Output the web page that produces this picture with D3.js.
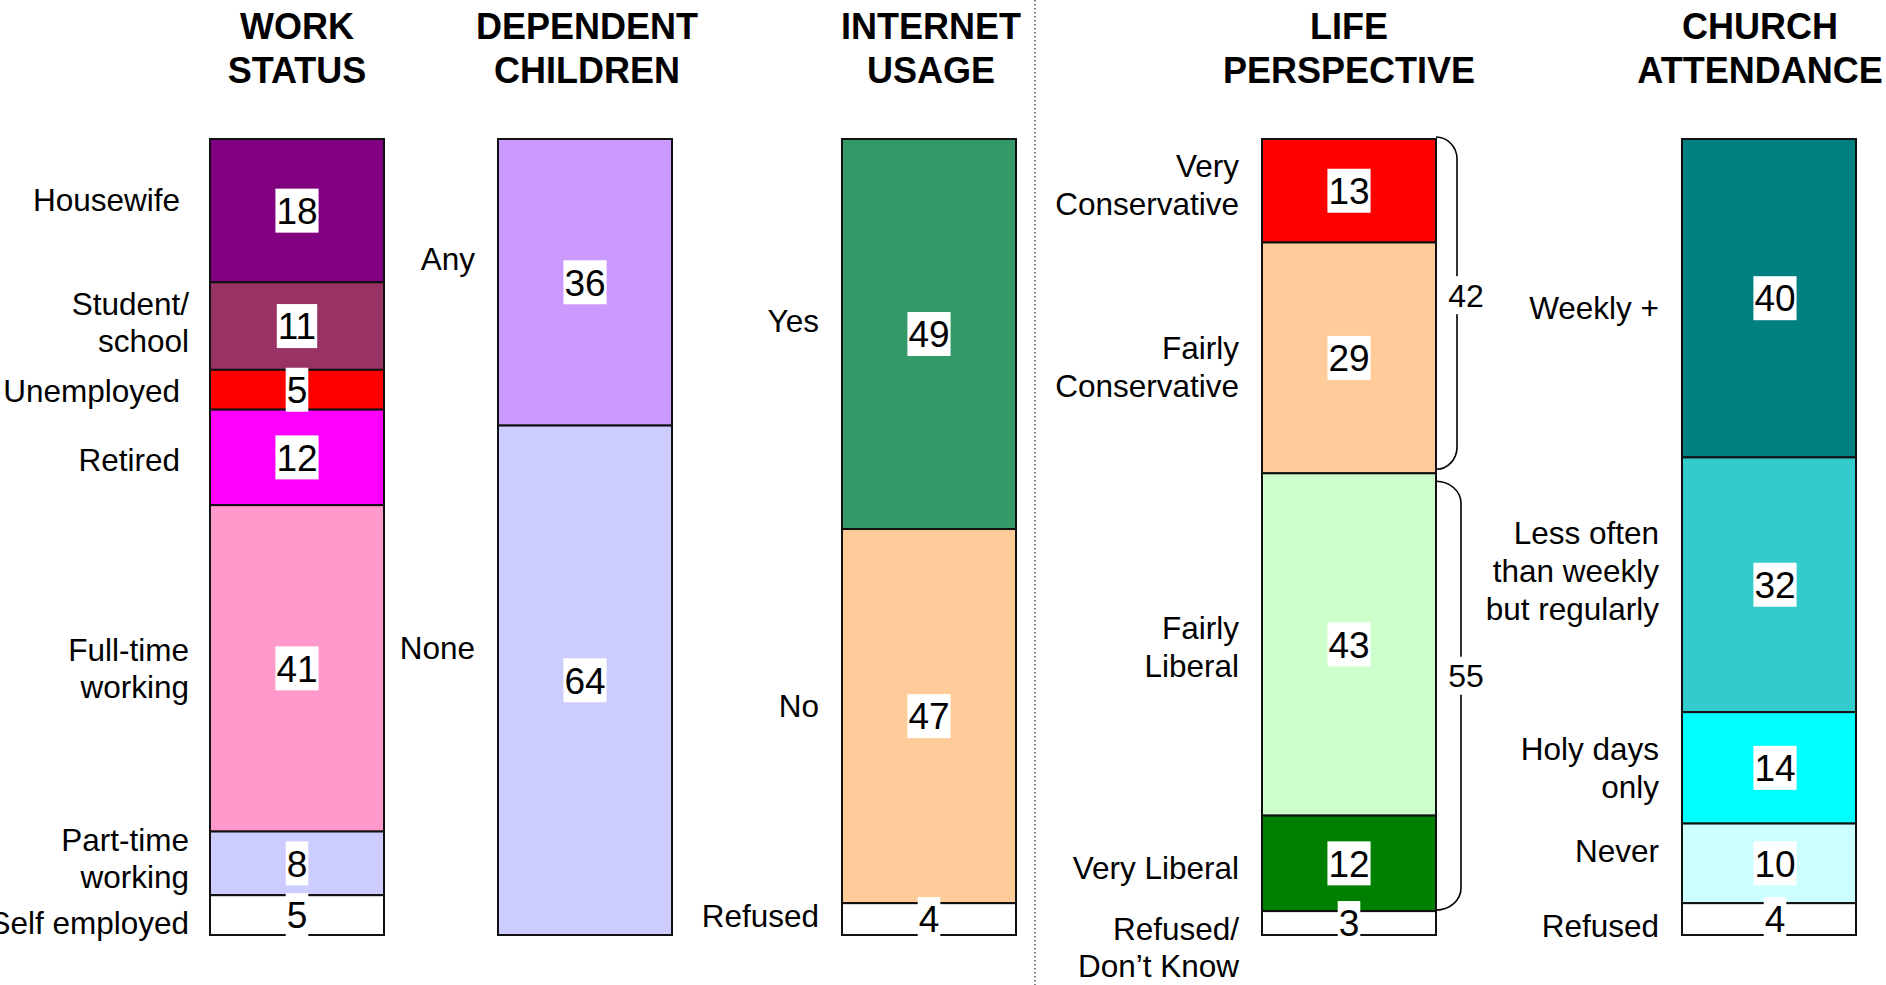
<!DOCTYPE html>
<html>
<head>
<meta charset="utf-8">
<script src="https://cdn.jsdelivr.net/npm/d3@7"></script>
<style>
  html, body { margin: 0; padding: 0; background: #ffffff; overflow: hidden; }
  svg { display: block; }
  text { font-family: "Liberation Sans", Arial, Helvetica, sans-serif; fill: #000; }
</style>
</head>
<body>
<svg id="chart" width="1886" height="985"></svg>
<script>
// ---------------- DATA ----------------
const chartKeys = ["work", "children", "internet", "life", "church"];
const chartTitles = [["WORK", "STATUS"], ["DEPENDENT", "CHILDREN"], ["INTERNET", "USAGE"], ["LIFE", "PERSPECTIVE"], ["CHURCH", "ATTENDANCE"]];

const workCategories = ["Housewife", "Student/\nschool", "Unemployed", "Retired", "Full-time\nworking", "Part-time\nworking", "Self employed"];
const workValues = [18, 11, 5, 12, 41, 8, 5];

const childrenCategories = ["Any", "None"];
const childrenValues = [36, 64];

const internetCategories = ["Yes", "No", "Refused"];
const internetValues = [49, 47, 4];

const lifeCategories = ["Very\nConservative", "Fairly\nConservative", "Fairly\nLiberal", "Very Liberal", "Refused/\nDon\u2019t Know"];
const lifeValues = [13, 29, 43, 12, 3];

const churchCategories = ["Weekly +", "Less often\nthan weekly\nbut regularly", "Holy days\nonly", "Never", "Refused"];
const churchValues = [40, 32, 14, 10, 4];

// Bracket totals on the life-perspective bar (Conservative / Liberal)
const lifeGroupValues = [42, 55];

// ---------------- STYLE / LAYOUT ----------------
const workColors = ["#800080", "#993366", "#FF0000", "#FF00FF", "#FF99CC", "#CCCCFF", "#FFFFFF"];
const childrenColors = ["#CC99FF", "#CCCCFF"];
const internetColors = ["#339966", "#FFCC99", "#FFFFFF"];
const lifeColors = ["#FF0000", "#FFCC99", "#CCFFCC", "#008000", "#FFFFFF"];
const churchColors = ["#008080", "#33CCCC", "#00FFFF", "#CCFFFF", "#FFFFFF"];

const barLefts = [210, 498, 842, 1262, 1682];
const barW = 174;
const labelNudges = {
  work: [-11, -4, 1, 2, 0, -5, 8],
  children: [-24, -33],
  internet: [-13, -10, -3],
  life: [-6, 9, 2, 4, 24],
  church: [10, -14, 0, -13, 7]
};
const labelXNudges = {
  work: [-7, 2, -7, -7, 2, 2, 2],
  children: [0, 0],
  internet: [0, 0, 0],
  life: [0, 0, 0, 0, 0],
  church: [0, 0, 0, 0, 0]
};
const valueXNudges = [0, 0, 0, 0, 6];
const titleNudges = [0, 2, 2, 0, -9];
const bracketLabelNudges = [-8, -20];

const catFont = 31.5, catLine = 37.6;
const valFont = 37;
const titleFont = 36;

const svg = d3.select("#chart");

const x = d3.scaleOrdinal().domain(chartKeys).range(barLefts);
const y = d3.scaleLinear().domain([0, 100]).range([139, 935]);

const charts = [
  { key: "work", cats: workCategories, vals: workValues, colors: workColors },
  { key: "children", cats: childrenCategories, vals: childrenValues, colors: childrenColors },
  { key: "internet", cats: internetCategories, vals: internetValues, colors: internetColors },
  { key: "life", cats: lifeCategories, vals: lifeValues, colors: lifeColors },
  { key: "church", cats: churchCategories, vals: churchValues, colors: churchColors }
];

// dotted divider between the two groups of charts
svg.append("line")
  .attr("x1", 1035).attr("x2", 1035)
  .attr("y1", 0).attr("y2", 985)
  .attr("stroke", "#444").attr("stroke-width", 1.3)
  .attr("stroke-dasharray", "1.5,2.5");

charts.forEach((c, ci) => {
  const g = svg.append("g").attr("class", "chart-" + c.key);
  const x0 = x(c.key);
  const cx = x0 + barW / 2;

  // title
  const title = g.append("text")
    .attr("x", cx + titleNudges[ci])
    .attr("text-anchor", "middle")
    .attr("font-size", titleFont)
    .attr("font-weight", "bold");
  chartTitles[ci].forEach((line, li) => {
    title.append("tspan").attr("x", cx + titleNudges[ci]).attr("y", 39 + li * 44).text(line);
  });

  // stacked segments
  const stack = [];
  let cum = 0;
  c.vals.forEach((v, i) => {
    stack.push({ v, i, y0: cum, y1: cum + v, cat: c.cats[i], color: c.colors[i] });
    cum += v;
  });

  g.selectAll("rect.seg").data(stack).join("rect")
    .attr("class", "seg")
    .attr("x", x0)
    .attr("y", d => y(d.y0))
    .attr("width", barW)
    .attr("height", d => y(d.y1) - y(d.y0))
    .attr("fill", d => d.color)
    .attr("stroke", "#111")
    .attr("stroke-width", 2);

  // value labels on white boxes
  stack.forEach(d => {
    const cy = (y(d.y0) + y(d.y1)) / 2;
    const vx = cx + valueXNudges[ci];
    const lg = g.append("g");
    const r = lg.append("rect").attr("fill", "#fff");
    const t = lg.append("text")
      .attr("x", vx).attr("y", cy)
      .attr("dy", "0.358em")
      .attr("text-anchor", "middle")
      .attr("font-size", valFont)
      .text(d.v);
    const w = t.node().getComputedTextLength() + 2;
    r.attr("x", vx - w / 2).attr("y", cy - 22).attr("width", w).attr("height", 44);
  });

  // category labels (right-aligned, left of the bar)
  stack.forEach((d, i) => {
    const lines = d.cat.split("\n");
    const cy = (y(d.y0) + y(d.y1)) / 2 + labelNudges[c.key][i];
    const tx = x0 - 23 + labelXNudges[c.key][i];
    const t = g.append("text")
      .attr("text-anchor", "end")
      .attr("font-size", catFont);
    lines.forEach((ln, li) => {
      t.append("tspan")
        .attr("x", tx)
        .attr("y", cy + 0.358 * catFont + (li - (lines.length - 1) / 2) * catLine)
        .text(ln);
    });
  });

  // brackets for life perspective
  if (c.key === "life") {
    let acc = 0;
    lifeGroupValues.forEach((gv, gi) => {
      const a = acc, b = acc + gv;
      acc = b;
      const xr = x0 + barW;
      const yT = y(a) + (a > 0 ? 8 : -2);
      const yB = y(b) - (gi === 0 ? 4 : 1);
      const xl = xr + 21 + gi * 4;
      const rx = xl - xr, ry = 22;
      g.append("path")
        .attr("d", `M${xr},${yT} A${rx},${ry} 0 0 1 ${xl},${yT + ry} L${xl},${yB - ry} A${rx},${ry} 0 0 1 ${xr},${yB}`)
        .attr("fill", "none")
        .attr("stroke", "#000")
        .attr("stroke-width", 1.6);
      const my = (yT + yB) / 2 + bracketLabelNudges[gi];
      const lx = xr + 30;
      const r = g.append("rect").attr("fill", "#fff");
      const t = g.append("text")
        .attr("x", lx).attr("y", my)
        .attr("dy", "0.358em")
        .attr("text-anchor", "middle")
        .attr("font-size", 32)
        .text(gv);
      const w = t.node().getComputedTextLength() + 2;
      r.attr("x", lx - w / 2).attr("y", my - 19).attr("width", w).attr("height", 38);
    });
  }
});
</script>
</body>
</html>
